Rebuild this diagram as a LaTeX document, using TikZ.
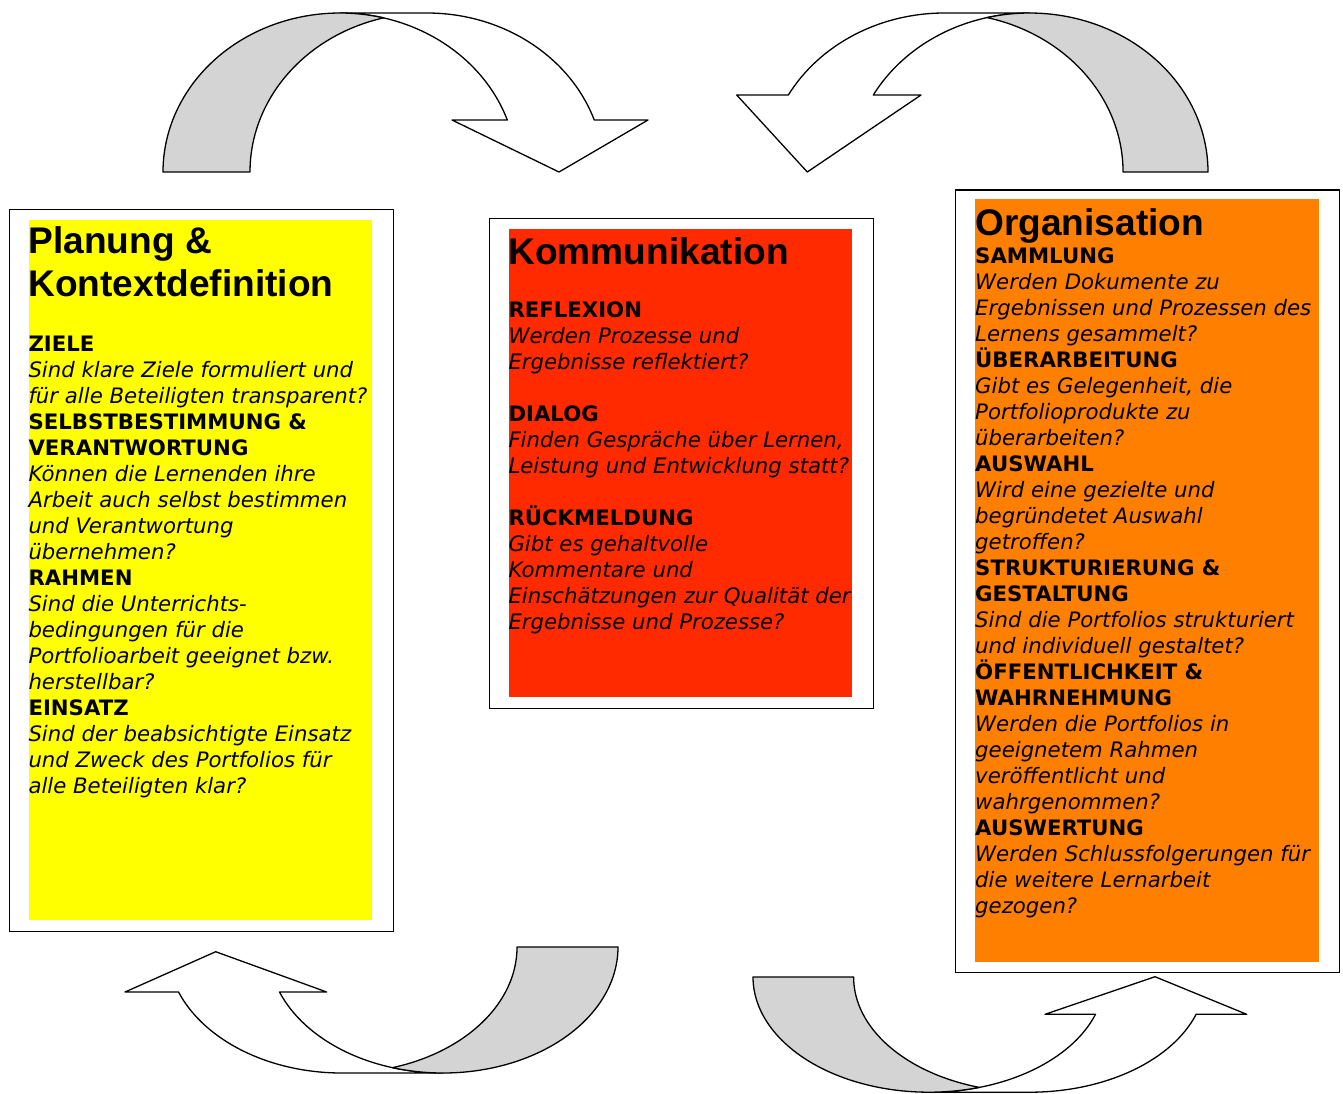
\documentclass[tikz,border=0pt]{standalone}
\usepackage{fontspec}
\newfontfamily\bodyfont{DejaVu Sans}[BoldFont={DejaVu Sans Bold},ItalicFont={DejaVu Sans Oblique},BoldItalicFont={DejaVu Sans Bold Oblique}]
\newfontfamily\titlefont{Liberation Sans}
\definecolor{panelyellow}{RGB}{255,255,0}
\definecolor{panelred}{RGB}{255,42,0}
\definecolor{panelorange}{RGB}{255,128,0}
\definecolor{arrowgray}{RGB}{212,212,212}
\tikzset{
  frame/.style={draw=black, line width=1.6pt, fill=white, inner sep=0pt, anchor=north west},
  panel/.style={inner sep=0pt, anchor=north west},
  arrowline/.style={draw=black, line width=1.3pt, line join=round},
  txt/.style={anchor=base west, inner sep=0pt},
}
\newcommand{\titletext}[1]{\parbox[t]{400pt}{\titlefont\bfseries\fontsize{37.1}{42.7}\selectfont #1}}
\newcommand{\bodytext}[1]{\parbox[t]{400pt}{\bodyfont\fontsize{21.25}{26}\selectfont #1}}
\newcommand{\hd}[1]{\textbf{#1}}
\newcommand{\qu}[1]{\textit{#1}}
\begin{document}
\begin{tikzpicture}[x=1pt, y=1pt, yscale=-1]
\useasboundingbox (0,0) rectangle (1343,1093);

% ---------- frames and panels ----------
\node[frame, minimum width=384pt, minimum height=722pt] (lframe) at (8.8,208.8) {};
\node[panel, fill=panelyellow, minimum width=343.4pt, minimum height=700pt] (lpanel) at (28.3,219.3) {};
\node[frame, minimum width=384pt, minimum height=490pt] (mframe) at (488.8,217.8) {};
\node[panel, fill=panelred, minimum width=343.4pt, minimum height=468.4pt] (mpanel) at (508.3,228.3) {};
\node[frame, minimum width=384pt, minimum height=782.5pt] (rframe) at (954.8,189) {};
\node[panel, fill=panelorange, minimum width=344pt, minimum height=762.7pt] (rpanel) at (975,199) {};

% ---------- texts ----------
\node[txt] (ltitle) at (28.3,253.3) {\titletext{Planung \&\\Kontextdefinition}};
\node[txt] (lbody) at (28.3,351.7) {\bodytext{%
\hd{ZIELE}\\
\qu{Sind klare Ziele formuliert und}\\
\qu{für alle Beteiligten transparent?}\\
\hd{SELBSTBESTIMMUNG \&}\\
\hd{VERANTWORTUNG}\\
\qu{Können die Lernenden ihre}\\
\qu{Arbeit auch selbst bestimmen}\\
\qu{und Verantwortung}\\
\qu{übernehmen?}\\
\hd{RAHMEN}\\
\qu{Sind die Unterrichts-}\\
\qu{bedingungen für die}\\
\qu{Portfolioarbeit geeignet bzw.}\\
\qu{herstellbar?}\\
\hd{EINSATZ}\\
\qu{Sind der beabsichtigte Einsatz}\\
\qu{und Zweck des Portfolios für}\\
\qu{alle Beteiligten klar?}}};

\node[txt] (mtitle) at (508.3,264.3) {\titletext{Kommunikation}};
\node[txt] (mbody) at (508.3,317.7) {\bodytext{%
\hd{REFLEXION}\\
\qu{Werden Prozesse und}\\
\qu{Ergebnisse reflektiert?}\\[26pt]
\hd{DIALOG}\\
\qu{Finden Gespräche über Lernen,}\\
\qu{Leistung und Entwicklung statt?}\\[26pt]
\hd{RÜCKMELDUNG}\\
\qu{Gibt es gehaltvolle}\\
\qu{Kommentare und}\\
\qu{Einschätzungen zur Qualität der}\\
\qu{Ergebnisse und Prozesse?}}};

\node[txt] (rtitle) at (975,235) {\titletext{Organisation}};
\node[txt] (rbody) at (975,263.3) {\bodytext{%
\hd{SAMMLUNG}\\
\qu{Werden Dokumente zu}\\
\qu{Ergebnissen und Prozessen des}\\
\qu{Lernens gesammelt?}\\
\hd{ÜBERARBEITUNG}\\
\qu{Gibt es Gelegenheit, die}\\
\qu{Portfolioprodukte zu}\\
\qu{überarbeiten?}\\
\hd{AUSWAHL}\\
\qu{Wird eine gezielte und}\\
\qu{begründetet Auswahl}\\
\qu{getroffen?}\\
\hd{STRUKTURIERUNG \&}\\
\hd{GESTALTUNG}\\
\qu{Sind die Portfolios strukturiert}\\
\qu{und individuell gestaltet?}\\
\hd{ÖFFENTLICHKEIT \&}\\
\hd{WAHRNEHMUNG}\\
\qu{Werden die Portfolios in}\\
\qu{geeignetem Rahmen}\\
\qu{veröffentlicht und}\\
\qu{wahrgenommen?}\\
\hd{AUSWERTUNG}\\
\qu{Werden Schlussfolgerungen für}\\
\qu{die weitere Lernarbeit}\\
\qu{gezogen?}}};

% ---------- curved block arrows ----------
% top left (left panel -> middle panel)
\draw[arrowline, fill=white] (340,13) -- (427,13)
  arc[start angle=270, end angle=340.91, x radius=177, y radius=159]
  -- (648,120) -- (559,172) -- (452,120) -- (507.3,120)
  arc[start angle=340.91, end angle=270, x radius=177, y radius=159] -- cycle;
\draw[arrowline, fill=arrowgray] (163,172)
  arc[start angle=180, end angle=284.23, x radius=177, y radius=159]
  arc[start angle=255.77, end angle=180, x radius=177, y radius=159] -- cycle;

% top right (right panel -> middle panel)
\draw[arrowline, fill=white] (1029.5,13) -- (944.5,13)
  arc[start angle=270, end angle=208.97, x radius=178.5, y radius=159]
  -- (736.7,95) -- (807.3,172) -- (921,95) -- (873.3,95)
  arc[start angle=208.97, end angle=270, x radius=178.5, y radius=159] -- cycle;
\draw[arrowline, fill=arrowgray] (1208,172)
  arc[start angle=360, end angle=256.23, x radius=178.5, y radius=159]
  arc[start angle=283.77, end angle=360, x radius=178.5, y radius=159] -- cycle;

% bottom left (middle -> left panel)
\draw[arrowline, fill=white] (443,1073) -- (342,1073)
  arc[start angle=90, end angle=159.08, x radius=175, y radius=126]
  -- (125,992) -- (215.7,951.7) -- (326.7,992) -- (279.5,992)
  arc[start angle=159.08, end angle=90, x radius=175, y radius=126] -- cycle;
\draw[arrowline, fill=arrowgray] (618,947)
  arc[start angle=0, end angle=106.77, x radius=175, y radius=126]
  arc[start angle=73.23, end angle=0, x radius=175, y radius=126] -- cycle;

% bottom right (middle -> right panel)
\draw[arrowline, fill=white] (929,1092.2) -- (1029.6,1092.2)
  arc[start angle=90, end angle=18.89, x radius=176, y radius=115.2]
  -- (1246.7,1014.3) -- (1155,976.7) -- (1045,1014.3) -- (1095.5,1014.3)
  arc[start angle=18.89, end angle=90, x radius=176, y radius=115.2] -- cycle;
\draw[arrowline, fill=arrowgray] (753,977)
  arc[start angle=180, end angle=73.39, x radius=176, y radius=115.2]
  arc[start angle=106.61, end angle=180, x radius=176, y radius=115.2] -- cycle;
\end{tikzpicture}
\end{document}
